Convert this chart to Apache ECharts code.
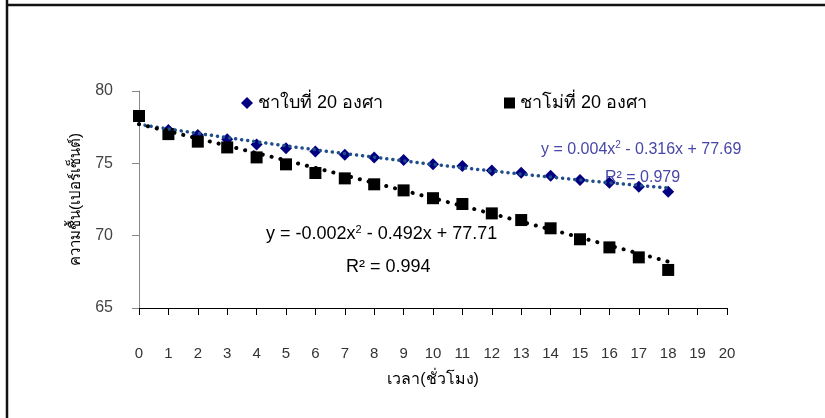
<!DOCTYPE html>
<html>
<head>
<meta charset="utf-8">
<script src="https://cdn.jsdelivr.net/npm/echarts@6/dist/echarts.min.js"></script>
<style>html,body{margin:0;padding:0;background:#fff}#c{width:825px;height:418px}</style>
</head>
<body>
<div id="c"></div>
<script>
// ---- data ----
var hours = [0,1,2,3,4,5,6,7,8,9,10,11,12,13,14,15,16,17,18];
var leafTea = [78.2,77.3,76.96,76.67,76.3,76.05,75.82,75.6,75.4,75.23,74.94,74.81,74.51,74.35,74.14,73.85,73.66,73.38,73.04];
var groundTea = [78.27,77.02,76.5,76.1,75.41,74.93,74.33,73.96,73.55,73.13,72.59,72.19,71.54,71.08,70.51,69.75,69.19,68.5,67.63];
var leafFit = [0.004,-0.316,77.69];   // a, b, c of y = ax^2 + bx + c
var groundFit = [-0.002,-0.492,77.71];
var leafName = 'ชาใบที่ 20 องศา';
var groundName = 'ชาโม่ที่ 20 องศา';
var xTitle = 'เวลา(ชั่วโมง)';
var yTitle = 'ความชื้น(เปอร์เซ็นต์)';
var leafEq = 'y = 0.004x{s|2} - 0.316x + 77.69';
var leafR2 = 'R² = 0.979';
var groundEq = 'y = -0.002x{s|2} - 0.492x + 77.71';
var groundR2 = 'R² = 0.994';

function trend(coef){
  var pts=[];
  for(var i=0;i<=72;i++){var x=i/4; pts.push([x, coef[0]*x*x+coef[1]*x+coef[2]]);}
  return pts;
}
function pairs(xs, ys){return xs.map(function(x,i){return [x, ys[i]];});}

var FONT = '"Liberation Sans", Arial, sans-serif';
var chart = echarts.init(document.getElementById('c'), null, {renderer:'canvas'});
chart.setOption({
  animation:false,
  backgroundColor:'#fff',
  grid:{left:139, top:91, width:588, height:217},
  legend:[
    {left:236, top:89, itemWidth:12, itemHeight:12, itemGap:8, data:[{name:leafName, icon:'diamond'}],
     textStyle:{fontSize:18, color:'#000', fontFamily:FONT}},
    {left:499, top:89, itemWidth:11, itemHeight:11, itemGap:10, data:[{name:groundName, icon:'rect'}],
     textStyle:{fontSize:18, color:'#000', fontFamily:FONT}}
  ],
  xAxis:{type:'value', min:0, max:20, interval:1,
    name:xTitle, nameLocation:'middle', nameGap:64,
    nameTextStyle:{fontSize:16, color:'#000', fontFamily:FONT},
    axisLine:{lineStyle:{color:'#000', width:1}},
    axisTick:{inside:false, length:7, lineStyle:{color:'#000'}},
    axisLabel:{margin:38, fontSize:15, color:'#333', fontFamily:FONT},
    splitLine:{show:false}},
  yAxis:{type:'value', min:65, max:80, interval:5,
    name:yTitle, nameLocation:'middle', nameGap:56, nameRotate:90,
    nameTextStyle:{fontSize:15, color:'#000', fontFamily:FONT},
    axisLine:{show:true, lineStyle:{color:'#888', width:1}},
    axisTick:{show:true, length:7, lineStyle:{color:'#888'}},
    axisLabel:{margin:26, fontSize:16, color:'#444', fontFamily:FONT},
    splitLine:{show:false}},
  series:[
    {name:leafName, type:'scatter', symbol:'diamond', symbolSize:12, z:2,
     itemStyle:{color:'#000080', opacity:1}, data:pairs(hours, leafTea)},
    {name:groundName, type:'scatter', symbol:'rect', symbolSize:12, z:3,
     itemStyle:{color:'#000', opacity:1}, data:pairs(hours, groundTea)},
    {name:'leafTrend', type:'line', showSymbol:false, symbol:'none', z:4, smooth:false,
     lineStyle:{color:'#1f4e8a', width:3.5, type:[0.1,6], cap:'round'}, data:trend(leafFit)},
    {name:'groundTrend', type:'line', showSymbol:false, symbol:'none', z:4, smooth:false,
     lineStyle:{color:'#000', width:4, type:[0.1,9], cap:'round'}, data:trend(groundFit)}
  ],
  graphic:[
    {type:'line', shape:{x1:7, y1:0, x2:7, y2:418}, style:{stroke:'#111', lineWidth:2.5}},
    {type:'line', shape:{x1:6, y1:5, x2:825, y2:5}, style:{stroke:'#111', lineWidth:2.5}},
    {type:'text', left:541, top:140, style:{text:leafEq, fill:'#4747a8', font:'16px '+FONT,
      rich:{s:{fontSize:10, fill:'#4747a8', padding:[0,0,9,0]}}}},
    {type:'text', left:605, top:170, style:{text:leafR2, fill:'#4747a8', font:'16px '+FONT}},
    {type:'text', left:266, top:224, style:{text:groundEq, fill:'#000', font:'18px '+FONT,
      rich:{s:{fontSize:11, fill:'#000', padding:[0,0,10,0]}}}},
    {type:'text', left:346, top:258, style:{text:groundR2, fill:'#000', font:'18px '+FONT}}
  ]
});
</script>
</body>
</html>
